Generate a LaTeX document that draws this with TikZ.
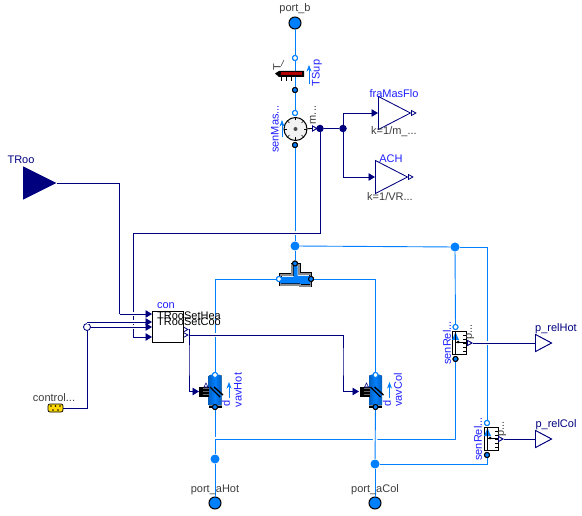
\documentclass[tikz,border=0pt]{standalone}
\usepackage{fontspec}
\setmainfont{Liberation Sans}
\usepackage{xcolor}
\definecolor{flow}{RGB}{0,127,255}
\definecolor{sig}{RGB}{0,0,127}
\definecolor{lab}{RGB}{30,30,255}
\definecolor{txt}{RGB}{60,60,60}
\usetikzlibrary{positioning,arrows.meta,shapes.geometric}

\begin{document}
\begin{tikzpicture}[font=\fontsize{11}{12}\selectfont, x=1pt, y=-1pt, >=Stealth]
\tikzset{
  fluid/.style={draw=flow, line width=.9pt},
  signal/.style={draw=sig, line width=.85pt},
  halo/.style={preaction={draw=white, line width=4.5pt, arrows=-}},
  inp/.style={-{Triangle[length=6.5pt,width=7.5pt]}},
  port/.style={circle, draw=black, line width=1pt, fill=flow, inner sep=0pt, minimum size=12pt},
  porta/.style={circle, draw=flow, line width=1pt, fill=white, inner sep=0pt, minimum size=5pt},
  portb/.style={circle, draw=black, line width=1pt, fill=flow, inner sep=0pt, minimum size=5pt},
  jun/.style={circle, fill=flow, inner sep=0pt, minimum size=9pt},
  dot/.style={circle, fill=sig, inner sep=0pt, minimum size=7.5pt},
  gain/.style={isosceles triangle, isosceles triangle stretches, draw=sig, line width=.85pt, fill=white, inner sep=0pt, anchor=lower side, shape border rotate=0},
  outtip/.style={gain, minimum width=5pt, minimum height=4.5pt, line width=.8pt},
  sens/.style={draw=black, line width=1pt, fill=white, minimum width=14pt, minimum height=23pt, inner sep=0pt},
  lbl/.style={text=lab, inner sep=0pt},
  par/.style={text=txt, inner sep=0pt},
  vert/.style={rotate=90, inner sep=0pt}
}
\useasboundingbox (0,0) rectangle (582,516);

% ports of the fluid side
\node[port] (port_b) at (295,23) {};
\node[port] (port_aHot) at (215,503) {};
\node[port] (port_aCol) at (375,503) {};
\node[jun] (junTop) at (295,246) {};
\node[jun] (junHot) at (215,459) {};
\node[jun] (junCol) at (375,464) {};
\node[jun] (junRel) at (455,247) {};
\node[porta] (TSup_a) at (295,58) {};
\node[portb] (TSup_b) at (295,90) {};
\node[porta] (senMas_a) at (295,113) {};
\node[portb] (senMas_b) at (295,145) {};
\node[portb] (spl_t) at (295,263.5) {};
\node[porta] (spl_l) at (279,279) {};
\node[portb] (spl_r) at (311,279) {};
\node[porta] (vavHot_a) at (215,375) {};
\node[portb] (vavHot_b) at (215,407) {};
\node[porta] (vavCol_a) at (375.5,375) {};
\node[portb] (vavCol_b) at (375.5,407) {};
\node[porta] (rel1_a) at (455.5,327) {};
\node[portb] (rel1_b) at (455.5,359) {};
\node[porta] (rel2_a) at (487,423) {};
\node[portb] (rel2_b) at (487,455) {};
\coordinate (hotTurn) at (215,439);

% blocks
\node[draw=black, line width=1pt, fill=white, minimum size=31pt, inner sep=0pt] (con) at (167.5,327.5) {};
\node[gain, minimum width=33pt, minimum height=32pt] (fraMasFlo) at (378,113) {};
\node[gain, minimum width=33pt, minimum height=32pt] (ACH) at (375,177) {};
\node[gain, minimum width=17pt, minimum height=16pt] (p_relHot) at (535,343) {};
\node[gain, minimum width=17pt, minimum height=16pt] (p_relCol) at (535,439) {};
\node[gain, fill=sig, minimum width=32pt, minimum height=32pt] (TRoo) at (23,183) {};
\node[dot] (dotA) at (320,128.5) {};
\node[dot] (dotB) at (343,128.5) {};
\node[circle, draw=sig, line width=.85pt, fill=white, inner sep=0pt, minimum size=7pt] (cir) at (87,327) {};
\node[draw=black, line width=.7pt, rounded corners=2pt, fill=yellow!75!orange, minimum width=15pt, minimum height=8pt, inner sep=0pt] (control) at (55.5,408) {};
\coordinate (conHea) at (152,314);
\coordinate (conOne) at (152,322);
\coordinate (conTwo) at (152,327);
\coordinate (conCoo) at (152,337);
\node[outtip] (conOutA) at (183,329.5) {};
\node[outtip] (conOutB) at (183,335) {};
\node[outtip] (senOut) at (312,128.5) {};
\node[outtip] (rel1Out) at (467,343) {};
\node[outtip] (rel2Out) at (498,439) {};
\node[outtip] (fraOut) at (411,113) {};
\node[outtip] (achOut) at (408,177) {};
\coordinate (vavHot_y) at (199,391.5);
\coordinate (vavCol_y) at (359,391.5);

% fluid lines
\draw[fluid] (port_b) -- (TSup_a);
\draw[fluid] (TSup_a) -- (TSup_b);
\draw[fluid] (TSup_b) -- (senMas_a);
\draw[fluid] (senMas_b) -- (junTop);
\draw[fluid] (junTop) -- (spl_t);
\draw[fluid] (spl_l) -| (vavHot_a);
\draw[fluid] (spl_r) -| (vavCol_a);
\draw[fluid] (vavHot_b) -- (hotTurn);
\draw[fluid, halo] (rel1_b) |- (hotTurn);
\draw[fluid] (hotTurn) -- (junHot);
\draw[fluid] (junHot) -- (port_aHot);
\draw[fluid, halo] (vavCol_b) -- (junCol);
\draw[fluid] (junCol) -- (port_aCol);
\draw[fluid] (junCol) -| (rel2_b);
\draw[fluid] (junTop) -- (junRel);
\draw[fluid] (junRel) -- (rel1_a);
\draw[fluid] (junRel) -| (rel2_a);

% signal lines
\draw[signal] (senOut) -- (dotA);
\draw[signal] (dotA) -- (dotB);
\draw[signal, inp] (dotB) |- (fraMasFlo.lower side);
\draw[signal, inp] (dotB) |- (ACH.lower side);
\draw[signal, halo] (dotA) |- (133,233) -- (133,337);
\draw[signal, inp] (133,337) -- (conCoo);
\draw[signal] (TRoo.apex) -| (119.5,314);
\draw[signal, inp, halo] (119.5,314) -- (conHea);
\draw[signal, inp, halo] (cir.north) |- (conOne);
\draw[signal, inp, halo] (cir.east) -- (conTwo);
\draw[signal] (control.east) -| (cir.south);
\draw[signal, inp, halo] (conOutB.apex) -| (343,360) |- (vavCol_y);
\draw[signal, inp] (conOutA.apex) -| (189,360) |- (vavHot_y);
\draw[signal, halo] (rel1Out.apex) -- (p_relHot.lower side);
\draw[signal] (rel2Out.apex) -- (p_relCol.lower side);

% redraw on top of the lines
\node[gain, minimum width=17pt, minimum height=16pt] at (535,343) {};
\node[gain, minimum width=17pt, minimum height=16pt] at (535,439) {};
\node[draw=black, line width=1pt, minimum size=31pt, inner sep=0pt] at (167.5,327.5) {};
\foreach \bx/\by in {51/406,55.5/406,60/406,53/410,58/410}
  \fill[black] (\bx,\by) circle (.9);

% temperature sensor
\fill[black] (275,73.5) -- (279,71) -- (304,71) -- (304,77) -- (279,77) -- cycle;
\fill[red!70!black] (281,72.5) rectangle (302,75.5);
\draw[black, line width=.8pt] (281,77) -- (281,81) (286,77) -- (286,81) (291,77) -- (291,81);
\draw[txt, line width=.5pt] (281,66) -- (284,60);
\draw[flow, line width=.8pt, ->] (309,84) -- (309,65);
\node[portb] at (295,90) {};
\node[porta] at (295,58) {};

% mass flow sensor
\node[circle, draw=black, line width=1pt, fill=black!5, inner sep=0pt, minimum size=23pt] (senMas) at (295.5,129) {};
\foreach \ang in {0,45,...,315}
  \draw[black, line width=.6pt] (senMas) ++(\ang:8.5) -- ++(\ang:3);
\fill[black!70] (senMas) circle (2);
\draw[black, line width=.8pt] (senMas) -- (senOut);
\draw[flow, line width=.8pt, ->] (282,137) -- (282,120);
\node[porta] at (295,113) {};
\node[portb] at (295,145) {};
\node[outtip] at (312,128.5) {};

% relative pressure sensors
\foreach \sx/\sy/\nm in {459/343/rel1,491/439/rel2}{
  \node[sens] (\nm) at (\sx,\sy) {};
  \fill[flow] (\sx-7,\sy-3) -- (\sx-3.5,\sy-11) -- (\sx,\sy-3) -- cycle;
  \draw[black, line width=.7pt] (\sx-3.5,\sy+11) -- (\sx-3.5,\sy-11);
  \draw[black, line width=.7pt] (\sx-3.5,\sy-1) -- (\sx+7,\sy-1);
  \foreach \tk in {-8,-4,...,8}
    \draw[black, line width=.6pt] (\sx+7,\sy+\tk) -- (\sx+3.5,\sy+\tk);
  \fill[black] (\sx-1,\sy-1) circle (1.5);
}
\node[porta] at (455.5,327) {};
\node[portb] at (455.5,359) {};
\node[porta] at (487,423) {};
\node[portb] at (487,455) {};
\node[outtip] at (467,343) {};
\node[outtip] at (498,439) {};

% damper bodies
\foreach \vx/\nm in {215/Hot,375.5/Col}{
  \fill[black!45] (\vx-6.5,375) rectangle (\vx+6.5,408);
  \fill[black] (\vx-6.5,405.5) rectangle (\vx+6.5,408);
  \shade[left color=flow!75!black, right color=flow!75!black, middle color=flow] (\vx-6.5,376) -- (\vx-4,374.5) -- (\vx+4,374.5) -- (\vx+6.5,376) -- (\vx+6.5,405) -- (\vx-6.5,405) -- cycle;
  \fill[black] (\vx-16,386.5) rectangle (\vx-6,397);
  \draw[black!60, line width=.6pt] (\vx-12,388) -- (\vx-6,388) (\vx-12,391) -- (\vx-6,391) (\vx-12,394) -- (\vx-6,394);
  \draw[black, line width=1.4pt] (\vx-5,387) -- (\vx+5,397) (\vx-1,387) -- (\vx+8,395);
  \draw[sig, line width=.6pt, fill=white] (\vx-11,387) -- (\vx-9,383) -- (\vx-7,387) -- cycle;
  \draw[flow, line width=.8pt, ->] (\vx+14,398) -- (\vx+14,382);
  \node[porta] at (\vx,375) {};
  \node[portb] at (\vx,407) {};
}

% splitter
\draw[black, line width=3pt, line join=miter] (280.5,275) -- (292,275) -- (292,265) -- (299,265) -- (299,274) -- (310.5,274) -- (310.5,286) -- (300,286) -- (300,285) -- (280.5,285) -- cycle;
\draw[black!45, line width=1.3pt, line join=miter] (280.5,275) -- (292,275) -- (292,265) -- (299,265) -- (299,274) -- (310.5,274) -- (310.5,286) -- (300,286) -- (300,285) -- (280.5,285) -- cycle;
\fill[flow] (280,277) -- (293.5,277) -- (293.5,266) -- (297.5,266) -- (297.5,276) -- (310,276) -- (310,284) -- (300,284) -- (300,283.5) -- (280,283.5) -- cycle;
\node[portb] at (295,263.5) {};
\node[porta] at (279,279) {};
\node[portb] at (311,279) {};

% labels
\node[par] (port_bLbl) at (295,9) {port\_b};
\node[par] (port_aHotLbl) at (215,490) {port\_aHot};
\node[par] (port_aColLbl) at (375,490) {port\_aCol};
\node[lbl, text=sig] (TRooLbl) at (21,160) {TRoo};
\node[par] (controlLbl) at (54,398) {control...};
\node[lbl] (conLbl) at (166,306) {con};
\node[anchor=west, inner sep=0pt, text=black] (heaLbl) at (157,316) {TRooSetHea};
\node[anchor=west, inner sep=0pt, text=black] (cooLbl) at (157,322) {TRooSetCoo};
\node[lbl] (fraLbl) at (394,94) {fraMasFlo};
\node[par] (fraPar) at (394,132) {k=1/m\_...};
\node[lbl] (achLbl) at (391,159) {ACH};
\node[par] (achPar) at (390,197) {k=1/VR...};
\node[lbl, text=sig] (relHotLbl) at (556,329) {p\_relHot};
\node[lbl, text=sig] (relColLbl) at (556,425) {p\_relCol};
\node[vert, text=lab] (senMasLbl) at (275,129) {senMas...};
\node[vert, text=lab] (TSupLbl) at (317,73) {TSup};
\node[vert, text=txt] (TLbl) at (277,67) {T};
\node[vert, text=txt] (mLbl) at (313,115) {m...};
\node[vert, text=lab] (vavHotLbl) at (238,390) {vavHot};
\node[vert, text=lab] (vavColLbl) at (398,390) {vavCol};
\node[vert, text=lab] (dHot) at (226,403) {d};
\node[vert, text=lab] (dCol) at (387,403) {d};
\node[vert, text=lab] (rel1Lbl) at (447,343) {senRel...};
\node[vert, text=lab] (rel2Lbl) at (478,439) {senRel...};
\node[vert, text=txt] (rel1p) at (470,332) {p...};
\node[vert, text=txt] (rel2p) at (502,429) {p...};
\end{tikzpicture}
\end{document}
